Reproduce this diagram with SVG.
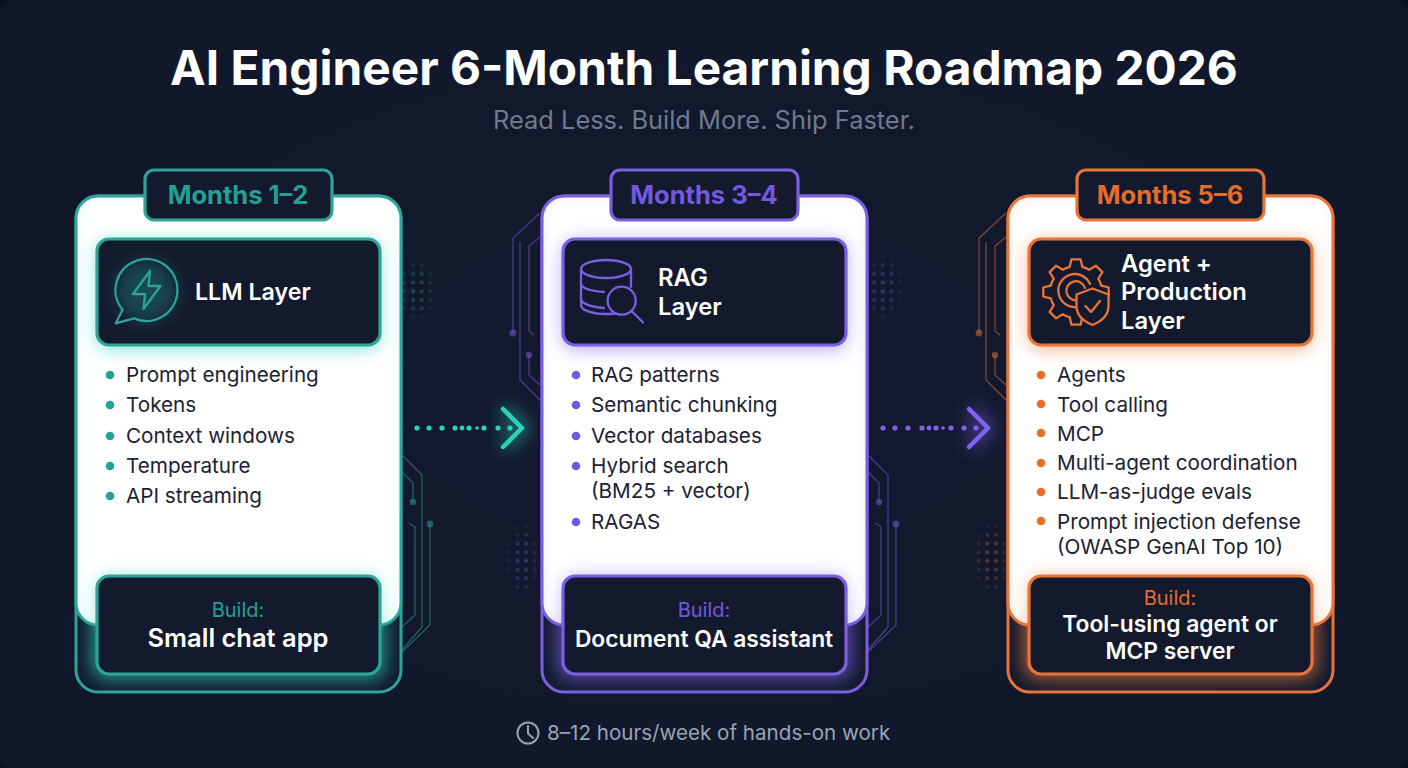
<svg xmlns="http://www.w3.org/2000/svg" xmlns:xlink="http://www.w3.org/1999/xlink" width="1408" height="768" viewBox="0 0 1408 768">
<style>
text{font-family:Inter,"Liberation Sans",sans-serif}
.teal{--c:#2fa397;--t:#24a193;--a:#2bd4bd}
.purple{--c:#7a5fe0;--t:#7458e0;--a:#7f63f0}
.orange{--c:#e8743a;--t:#e66c2c;--a:#ee7a3c}
.title{font-size:47.800px;font-weight:700;fill:#fff;text-anchor:middle}
.sub{font-size:25.400px;fill:#6f7a8e;text-anchor:middle}
.month{font-size:25.500px;font-weight:700;fill:var(--t);text-anchor:middle}
.head{font-size:23.800px;font-weight:600;fill:#fff}
.li{font-size:20.700px;fill:#1b2233}
.bul{fill:var(--t)}
.build{font-size:20px;fill:var(--t);text-anchor:middle}
.what{font-size:25.500px;font-weight:600;fill:#fff;text-anchor:middle}
.what2{font-size:22.800px}
.ic{fill:none;stroke:var(--c);stroke-width:2.300;stroke-linecap:round;stroke-linejoin:round}
.box{fill:#131a2e;stroke:var(--c);stroke-width:3.200}
.cir{fill:none;stroke:var(--c);stroke-width:1.300;opacity:.5}
.nod{fill:var(--c);opacity:.5}
.dot{fill:var(--a)}
.chev{fill:none;stroke:var(--a);stroke-width:4.500;stroke-linecap:round;stroke-linejoin:round}
</style>
<defs>
<radialGradient id="bg" cx="50%" cy="50%" r="75%"><stop offset="0" stop-color="#131a30"/><stop offset="1" stop-color="#101729"/></radialGradient>
<radialGradient id="fade"><stop offset="0" stop-color="#fff"/><stop offset=".5" stop-color="#fff" stop-opacity=".7"/><stop offset="1" stop-color="#fff" stop-opacity="0"/></radialGradient>
<filter id="b9" x="-30%" y="-40%" width="160%" height="180%"><feGaussianBlur stdDeviation="9"/></filter>
<filter id="b7" x="-80%" y="-60%" width="260%" height="220%"><feGaussianBlur stdDeviation="9"/></filter>
<filter id="b5" x="-30%" y="-40%" width="160%" height="180%"><feGaussianBlur stdDeviation="5"/></filter>
<clipPath id="cOuter"><rect x="76" y="196" width="325" height="496" rx="22"/></clipPath>
<clipPath id="cWhite"><rect x="76" y="196" width="325" height="429" rx="22"/></clipPath>
<pattern id="htT" width="8.700" height="8.700" patternUnits="userSpaceOnUse"><rect x="2.200" y="2.200" width="3.800" height="3.800" rx="1.500" fill="#2fa397" opacity=".42"/></pattern>
<pattern id="htP" width="8.700" height="8.700" patternUnits="userSpaceOnUse"><rect x="2.200" y="2.200" width="3.800" height="3.800" rx="1.500" fill="#7a5fe0" opacity=".42"/></pattern>
<pattern id="htO" width="8.700" height="8.700" patternUnits="userSpaceOnUse"><rect x="2.200" y="2.200" width="3.800" height="3.800" rx="1.500" fill="#e8743a" opacity=".42"/></pattern>
<mask id="mh" maskContentUnits="objectBoundingBox"><rect width="1" height="1" fill="url(#fade)"/></mask>
<g id="shell">
<rect x="76" y="196" width="325" height="496" rx="22" fill="#131a2e" stroke="var(--c)" stroke-width="3"/>
<g clip-path="url(#cOuter)"><rect x="92" y="571" width="293" height="108" rx="14" fill="var(--a)" opacity=".7" filter="url(#b9)"/></g>
<rect x="76" y="196" width="325" height="429" rx="22" fill="#fff" stroke="var(--c)" stroke-width="3"/>
<g clip-path="url(#cWhite)">
<rect x="76" y="196" width="325" height="429" rx="22" fill="none" stroke="var(--a)" stroke-width="5" opacity=".16" filter="url(#b5)"/>
<rect x="97" y="241" width="283" height="108" rx="12" fill="var(--a)" opacity=".6" filter="url(#b9)"/>
<rect x="97" y="576" width="283" height="98" rx="12" fill="var(--a)" opacity=".5" filter="url(#b9)"/>
</g>
<rect class="box" x="97" y="239" width="283" height="106" rx="12"/>
<rect class="box" x="97" y="576" width="283" height="98" rx="12"/>
<rect class="box" x="145" y="170" width="187" height="50" rx="9"/>
</g>
<g id="circR">
<path class="cir" d="M402 455L422 475V627L402 650"/>
<path class="cir" d="M402 472L413 483V502"/>
<path class="cir" d="M409 523L415 527V615L402 627"/>
<path class="cir" d="M430 524V625L402 652"/>
<circle class="nod" cx="413" cy="502" r="3.200"/>
<circle class="nod" cx="430" cy="524" r="3.400"/>
</g>
<g id="circL">
<path class="cir" d="M540 213L513 238V333"/>
<path class="cir" d="M540 237L529 246V331L534 335"/>
<path class="cir" d="M540 400L520 380V242"/>
<path class="cir" d="M529 355V375L540 385"/>
<circle class="nod" cx="513" cy="333" r="3.400"/>
<circle class="nod" cx="529" cy="355" r="3.200"/>
</g>
</defs>

<rect width="1408" height="768" fill="#0b1020"/>
<rect width="1408" height="768" rx="12" fill="url(#bg)"/>

<text class="title" x="704" y="85">AI Engineer 6-Month Learning Roadmap 2026</text>
<text class="sub" x="704" y="129">Read Less. Build More. Ship Faster.</text>

<g id="decor">
<g class="teal"><use xlink:href="#circR"/><rect x="396" y="254" width="42" height="70" fill="url(#htT)" mask="url(#mh)"/></g>
<g class="purple"><use xlink:href="#circL"/><use xlink:href="#circR" transform="translate(466 0)"/><rect x="862" y="250" width="42" height="74" fill="url(#htP)" mask="url(#mh)"/><rect x="505" y="520" width="36" height="80" fill="url(#htP)" mask="url(#mh)"/></g>
<g class="orange"><use xlink:href="#circL" transform="translate(466 0)"/><rect x="972" y="520" width="38" height="76" fill="url(#htO)" mask="url(#mh)"/></g>
</g>

<g id="connectors">
<g id="arrow-1" class="teal">
<path d="M503 409L522 428L503 447" fill="none" stroke="var(--a)" stroke-width="13" opacity=".5" filter="url(#b7)"/>
<g class="dot"><circle cx="417" cy="428" r="2.600"/><circle cx="429" cy="428" r="2.600"/><circle cx="442" cy="428" r="2.600"/><circle cx="455" cy="428" r="2.600"/><circle cx="462" cy="428" r="2.400"/><circle cx="469" cy="428" r="2.600"/><circle cx="477" cy="428" r="1.800"/><circle cx="484" cy="428" r="2.600"/><circle cx="498" cy="428" r="2.600"/><circle cx="510" cy="428" r="2.600"/></g>
<path class="chev" d="M503 409L522 428L503 447"/>
</g>
<g id="arrow-2" class="purple">
<path d="M969 409L988 428L969 447" fill="none" stroke="var(--a)" stroke-width="13" opacity=".5" filter="url(#b7)"/>
<g class="dot"><circle cx="883" cy="428" r="2.600"/><circle cx="895" cy="428" r="2.600"/><circle cx="908" cy="428" r="2.600"/><circle cx="922" cy="428" r="2.600"/><circle cx="929" cy="428" r="2.400"/><circle cx="936" cy="428" r="2.600"/><circle cx="943" cy="428" r="1.800"/><circle cx="951" cy="428" r="2.600"/><circle cx="964" cy="428" r="2.600"/><circle cx="976" cy="428" r="2.600"/></g>
<path class="chev" d="M969 409L988 428L969 447"/>
</g>
</g>

<g id="card-1" class="teal">
<use xlink:href="#shell"/>
<text class="month" x="238" y="204">Months 1–2</text>
<circle cx="146" cy="291" r="30" fill="var(--a)" opacity=".25" filter="url(#b7)"/>
<path class="ic" d="M122.600 309.800A31 31 0 1 1 134 318.400L115.700 323.300Z"/>
<path class="ic" d="M150 271L133 294H145L143.500 309L160.500 286H148.500Z"/>
<text class="head" x="195" y="300" style="font-size:23.200px">LLM Layer</text>
<circle class="bul" cx="110" cy="375" r="4.300"/><text class="li" x="126" y="382">Prompt engineering</text>
<circle class="bul" cx="110" cy="405" r="4.300"/><text class="li" x="126" y="412">Tokens</text>
<circle class="bul" cx="110" cy="436" r="4.300"/><text class="li" x="126" y="443">Context windows</text>
<circle class="bul" cx="110" cy="466" r="4.300"/><text class="li" x="126" y="473">Temperature</text>
<circle class="bul" cx="110" cy="496" r="4.300"/><text class="li" x="126" y="503">API streaming</text>
<text class="build" x="238" y="617">Build:</text>
<text class="what" x="238" y="647">Small chat app</text>
</g>

<g id="card-2" class="purple">
<use xlink:href="#shell" transform="translate(466 0)"/>
<text class="month" x="704" y="204">Months 3–4</text>
<path class="ic" d="M581 269V305C581 310 592 314 606 314C609 314 612 314 615 313.500M631 269V287M581 269A25 9 0 0 1 631 269A25 9 0 0 1 581 269ZM581 283C581 288 590 291 604 292M581 299C581 303 590 307 604 308"/>
<circle class="ic" cx="621.700" cy="300.700" r="14"/>
<path class="ic" d="M632 311.500L643 322.500"/>
<text class="head" x="658" y="286">RAG</text>
<text class="head" x="658" y="315">Layer</text>
<circle class="bul" cx="576" cy="375" r="4.300"/><text class="li" x="591" y="382">RAG patterns</text>
<circle class="bul" cx="576" cy="405" r="4.300"/><text class="li" x="591" y="412">Semantic chunking</text>
<circle class="bul" cx="576" cy="436" r="4.300"/><text class="li" x="591" y="443">Vector databases</text>
<circle class="bul" cx="576" cy="466" r="4.300"/><text class="li" x="591" y="473">Hybrid search</text>
<text class="li" x="591" y="498">(BM25 + vector)</text>
<circle class="bul" cx="576" cy="522" r="4.300"/><text class="li" x="591" y="529">RAGAS</text>
<text class="build" x="704" y="617">Build:</text>
<text class="what what2" x="704" y="647">Document QA assistant</text>
</g>

<g id="card-3" class="orange">
<use xlink:href="#shell" transform="translate(932 0)"/>
<text class="month" x="1170" y="204">Months 5–6</text>
<g transform="translate(1076 292)">
<path class="ic" d="M25.200 -6.300L32.700 -4.600V4.600L25.200 6.300A26 26 0 0 1 22.300 13.400L26.400 19.900L19.900 26.400L13.400 22.300A26 26 0 0 1 6.300 25.200L4.600 32.700H-4.600L-6.300 25.200A26 26 0 0 1 -13.400 22.300L-19.900 26.400L-26.400 19.900L-22.300 13.400A26 26 0 0 1 -25.200 6.300L-32.700 4.600V-4.600L-25.200 -6.300A26 26 0 0 1 -22.300 -13.400L-26.400 -19.900L-19.900 -26.400L-13.400 -22.300A26 26 0 0 1 -6.300 -25.200L-4.600 -32.700H4.600L6.300 -25.200A26 26 0 0 1 13.400 -22.300L19.900 -26.400L26.400 -19.900L22.300 -13.400A26 26 0 0 1 25.200 -6.300Z"/>
<path class="ic" d="M3 14.500A16.500 16.500 0 1 1 14 -8M2 8A9.500 9.500 0 1 1 9 -4"/>
</g>
<path class="ic" style="fill:#131a2e" d="M1092.500 288.500L1108.500 294.500V306C1108.500 316 1101 321.500 1092.500 325C1084 321.500 1076.500 316 1076.500 306V294.500Z"/>
<path class="ic" d="M1085.500 306L1091 312L1100 301"/>
<text class="head" x="1121" y="272">Agent +</text>
<text class="head" x="1121" y="300">Production</text>
<text class="head" x="1121" y="329">Layer</text>
<circle class="bul" cx="1041" cy="375" r="4.300"/><text class="li" x="1057" y="382">Agents</text>
<circle class="bul" cx="1041" cy="404" r="4.300"/><text class="li" x="1057" y="412">Tool calling</text>
<circle class="bul" cx="1041" cy="433" r="4.300"/><text class="li" x="1057" y="441">MCP</text>
<circle class="bul" cx="1041" cy="463" r="4.300"/><text class="li" x="1057" y="470">Multi-agent coordination</text>
<circle class="bul" cx="1041" cy="492" r="4.300"/><text class="li" x="1057" y="499">LLM-as-judge evals</text>
<circle class="bul" cx="1041" cy="521" r="4.300"/><text class="li" x="1057" y="529">Prompt injection defense</text>
<text class="li" x="1057" y="554">(OWASP GenAI Top 10)</text>
<text class="build" x="1170" y="605">Build:</text>
<text class="what what2" x="1170" y="632">Tool-using agent or</text>
<text class="what what2" x="1170" y="659">MCP server</text>
</g>

<g id="footer">
<circle cx="528" cy="733" r="10.500" fill="none" stroke="#9aa3b5" stroke-width="2"/>
<path d="M528 726V733.500L533 738" fill="none" stroke="#9aa3b5" stroke-width="2" stroke-linecap="round"/>
<text x="547" y="740" font-size="20.600" fill="#9aa3b5">8–12 hours/week of hands-on work</text>
</g>
</svg>
